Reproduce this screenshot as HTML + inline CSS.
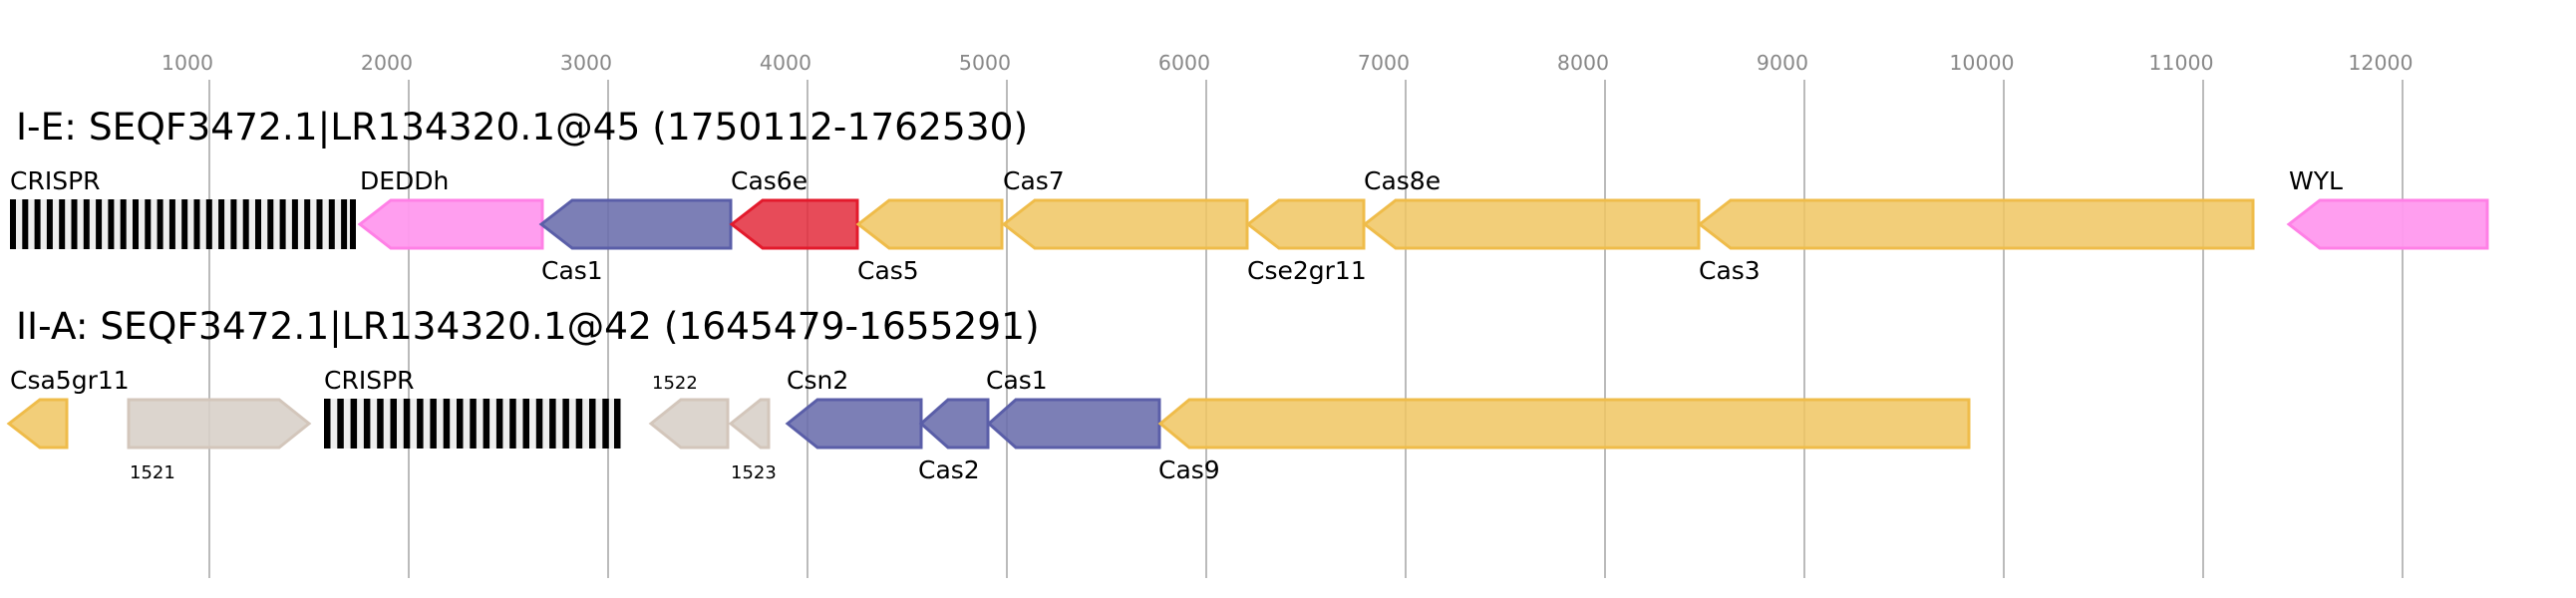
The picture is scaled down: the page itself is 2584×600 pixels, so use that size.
<!DOCTYPE html>
<html><head><meta charset="utf-8"><style>
html,body{margin:0;padding:0;background:#fff;}
svg{display:block;}
text{font-family:"DejaVu Sans","Liberation Sans",sans-serif;}
</style></head><body>
<svg width="2584" height="600" viewBox="0 0 2584 600" xmlns="http://www.w3.org/2000/svg">
<g stroke="#bbb" stroke-width="2">
<line x1="210" y1="80" x2="210" y2="580"/><line x1="410" y1="80" x2="410" y2="580"/>
<line x1="610" y1="80" x2="610" y2="580"/><line x1="810" y1="80" x2="810" y2="580"/>
<line x1="1010" y1="80" x2="1010" y2="580"/><line x1="1210" y1="80" x2="1210" y2="580"/>
<line x1="1410" y1="80" x2="1410" y2="580"/><line x1="1610" y1="80" x2="1610" y2="580"/>
<line x1="1810" y1="80" x2="1810" y2="580"/><line x1="2010" y1="80" x2="2010" y2="580"/>
<line x1="2210" y1="80" x2="2210" y2="580"/><line x1="2410" y1="80" x2="2410" y2="580"/>
</g>
<g fill="#888" font-size="20.5" text-anchor="middle">
<text x="188" y="70">1000</text><text x="388" y="70">2000</text><text x="588" y="70">3000</text>
<text x="788" y="70">4000</text><text x="988" y="70">5000</text><text x="1188" y="70">6000</text>
<text x="1388" y="70">7000</text><text x="1588" y="70">8000</text><text x="1788" y="70">9000</text>
<text x="1988" y="70">10000</text><text x="2188" y="70">11000</text><text x="2388" y="70">12000</text>
</g>
<text x="16" y="140" font-size="37.5">I-E: SEQF3472.1|LR134320.1@45 (1750112-1762530)</text>
<text x="16" y="340" font-size="37.5">II-A: SEQF3472.1|LR134320.1@42 (1645479-1655291)</text>

<rect x="10" y="200" width="347" height="50" fill="#eee"/>
<g fill="#000">
<rect x="10" y="200" width="6" height="50"/><rect x="22.3" y="200" width="6" height="50"/><rect x="34.6" y="200" width="6" height="50"/><rect x="46.9" y="200" width="6" height="50"/><rect x="59.2" y="200" width="6" height="50"/><rect x="71.5" y="200" width="6" height="50"/><rect x="83.8" y="200" width="6" height="50"/><rect x="96.1" y="200" width="6" height="50"/><rect x="108.4" y="200" width="6" height="50"/><rect x="120.7" y="200" width="6" height="50"/><rect x="133" y="200" width="6" height="50"/><rect x="145.3" y="200" width="6" height="50"/><rect x="157.6" y="200" width="6" height="50"/><rect x="169.9" y="200" width="6" height="50"/><rect x="182.2" y="200" width="6" height="50"/><rect x="194.5" y="200" width="6" height="50"/><rect x="206.8" y="200" width="6" height="50"/><rect x="219.1" y="200" width="6" height="50"/><rect x="231.4" y="200" width="6" height="50"/><rect x="243.7" y="200" width="6" height="50"/><rect x="256" y="200" width="6" height="50"/><rect x="268.3" y="200" width="6" height="50"/><rect x="280.6" y="200" width="6" height="50"/><rect x="292.9" y="200" width="6" height="50"/><rect x="305.2" y="200" width="6" height="50"/><rect x="317.5" y="200" width="6" height="50"/><rect x="329.8" y="200" width="6" height="50"/><rect x="342.1" y="200" width="6" height="50"/><rect x="351" y="200" width="6" height="50"/>
</g>
<rect x="325" y="400" width="297" height="50" fill="#eee"/>
<g fill="#000">
<rect x="325" y="400" width="6.5" height="50"/><rect x="338.3" y="400" width="6.5" height="50"/><rect x="351.6" y="400" width="6.5" height="50"/><rect x="364.9" y="400" width="6.5" height="50"/><rect x="378.2" y="400" width="6.5" height="50"/><rect x="391.5" y="400" width="6.5" height="50"/><rect x="404.8" y="400" width="6.5" height="50"/><rect x="418.1" y="400" width="6.5" height="50"/><rect x="431.4" y="400" width="6.5" height="50"/><rect x="444.7" y="400" width="6.5" height="50"/><rect x="458" y="400" width="6.5" height="50"/><rect x="471.3" y="400" width="6.5" height="50"/><rect x="484.6" y="400" width="6.5" height="50"/><rect x="497.9" y="400" width="6.5" height="50"/><rect x="511.2" y="400" width="6.5" height="50"/><rect x="524.5" y="400" width="6.5" height="50"/><rect x="537.8" y="400" width="6.5" height="50"/><rect x="551.1" y="400" width="6.5" height="50"/><rect x="564.4" y="400" width="6.5" height="50"/><rect x="577.7" y="400" width="6.5" height="50"/><rect x="591" y="400" width="6.5" height="50"/><rect x="604.3" y="400" width="6.5" height="50"/><rect x="616" y="400" width="6.5" height="50"/>
</g>

<g stroke-width="3" stroke-linejoin="miter">
<polygon points="361,225 392,201 544,201 544,249 392,249" fill="#ff99ee" fill-opacity="0.95" stroke="#ff80e6"/>
<polygon points="543,225 574,201 733,201 733,249 574,249" fill="#6a6dac" fill-opacity="0.88" stroke="#5a5ea8"/>
<polygon points="734,225 765,201 860,201 860,249 765,249" fill="#e32c3c" fill-opacity="0.85" stroke="#e31a2c"/>
<polygon points="861,225 892,201 1005,201 1005,249 892,249" fill="#f0c562" fill-opacity="0.85" stroke="#efbc4a"/>
<polygon points="1007,225 1038,201 1251,201 1251,249 1038,249" fill="#f0c562" fill-opacity="0.85" stroke="#efbc4a"/>
<polygon points="1252,225 1283,201 1368,201 1368,249 1283,249" fill="#f0c562" fill-opacity="0.85" stroke="#efbc4a"/>
<polygon points="1369,225 1400,201 1704,201 1704,249 1400,249" fill="#f0c562" fill-opacity="0.85" stroke="#efbc4a"/>
<polygon points="1705,225 1736,201 2260,201 2260,249 1736,249" fill="#f0c562" fill-opacity="0.85" stroke="#efbc4a"/>
<polygon points="2296,225 2327,201 2495,201 2495,249 2327,249" fill="#ff99ee" fill-opacity="0.95" stroke="#ff80e6"/>
<polygon points="9,425 40,401 67,401 67,449 40,449" fill="#f0c562" fill-opacity="0.85" stroke="#efbc4a"/>
<polygon points="129,401 280,401 310,425 280,449 129,449" fill="#d8d0c9" fill-opacity="0.9" stroke="#d3c6bb"/>
<polygon points="653,425 683,401 730,401 730,449 683,449" fill="#d8d0c9" fill-opacity="0.9" stroke="#d3c6bb"/>
<polygon points="733,425 763,401 771,401 771,449 763,449" fill="#d8d0c9" fill-opacity="0.9" stroke="#d3c6bb"/>
<polygon points="790,425 820,401 924,401 924,449 820,449" fill="#6a6dac" fill-opacity="0.88" stroke="#5a5ea8"/>
<polygon points="924,425 951,401 991,401 991,449 951,449" fill="#6a6dac" fill-opacity="0.88" stroke="#5a5ea8"/>
<polygon points="992,425 1019,401 1163,401 1163,449 1019,449" fill="#6a6dac" fill-opacity="0.88" stroke="#5a5ea8"/>
<polygon points="1164,425 1193,401 1975,401 1975,449 1193,449" fill="#f0c562" fill-opacity="0.85" stroke="#efbc4a"/>
</g>

<g font-size="25" fill="#000">
<text x="10" y="190">CRISPR</text>
<text x="361" y="190">DEDDh</text>
<text x="543" y="280">Cas1</text>
<text x="733" y="190">Cas6e</text>
<text x="860" y="280">Cas5</text>
<text x="1006" y="190">Cas7</text>
<text x="1251" y="280">Cse2gr11</text>
<text x="1368" y="190">Cas8e</text>
<text x="1704" y="280">Cas3</text>
<text x="2296" y="190">WYL</text>
<text x="10" y="390">Csa5gr11</text>
<text x="325" y="390">CRISPR</text>
<text x="789" y="390">Csn2</text>
<text x="921" y="480">Cas2</text>
<text x="989" y="390">Cas1</text>
<text x="1162" y="480">Cas9</text>
</g>
<g font-size="18" fill="#000">
<text x="130" y="480">1521</text>
<text x="654" y="390">1522</text>
<text x="733" y="480">1523</text>
</g>
</svg>
</body></html>
